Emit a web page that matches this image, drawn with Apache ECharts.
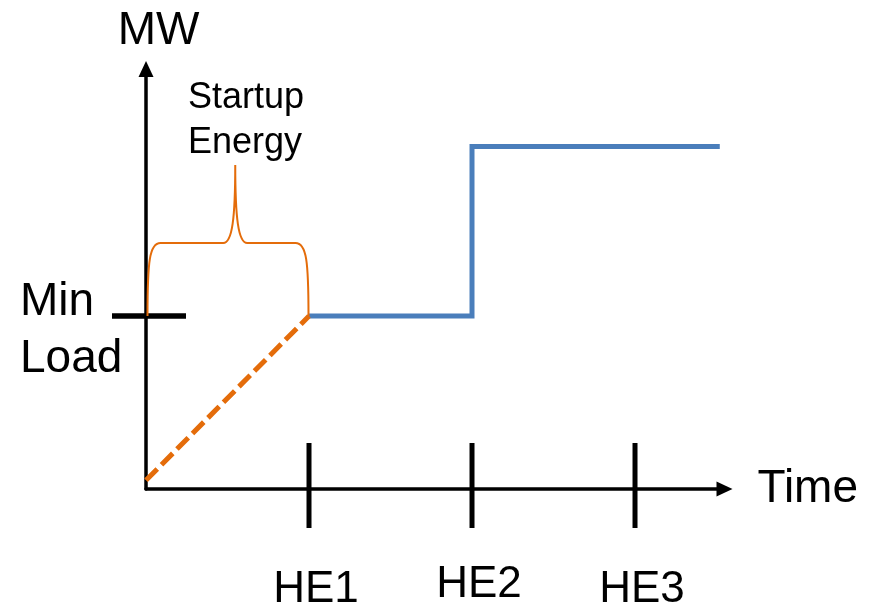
<!DOCTYPE html>
<html>
<head>
<meta charset="utf-8">
<script src="https://cdn.jsdelivr.net/npm/echarts@6/dist/echarts.min.js"></script>
<style>
html,body{margin:0;padding:0;background:#fff;}
#chart{width:877px;height:604px;}
</style>
</head>
<body>
<div id="chart"></div>
<script>
// ---- data ----
const hourTicks = [1, 2, 3];
const hourLabels = ['HE1', 'HE2', 'HE3'];
const minLoad = 1;
const minLoadLabel = 'Min\nLoad';
const rampPoints = [[0, 0.05], [1, 1]];               // startup ramp (orange dashed)
const dispatchPoints = [[1, 1], [2, 1], [2, 1.98], [3.52, 1.98]]; // MW after HE1 (blue)
const braceSpan = [[0, 1, 1]];                        // [startX, endX, level]
const braceText = 'Startup\nEnergy';
const xName = 'Time';
const yName = 'MW';

const FONT = "'Liberation Sans', Arial, sans-serif";
const ORANGE = '#E46C0A';
const BLUE = '#4A7EBB';

const chart = echarts.init(document.getElementById('chart'));

const option = {
  animation: false,
  backgroundColor: '#ffffff',
  textStyle: { fontFamily: FONT, color: '#000' },
  grid: { left: 146, right: 877 - 724.5, top: 69, bottom: 115, containLabel: false, outerBoundsMode: 'none' },
  xAxis: {
    type: 'value',
    min: 0, max: 3.549, interval: 1,
    name: xName,
    nameLocation: 'end',
    nameGap: 33,
    nameTextStyle: { fontFamily: FONT, fontSize: 46, lineHeight: 46, color: '#000', verticalAlign: 'middle', align: 'left', padding: [16, 0, 0, 0] },
    axisLine: {
      show: true, onZero: false,
      symbol: ['none', 'triangle'], symbolSize: [15, 16],
      lineStyle: { color: '#000', width: 3.5 }
    },
    axisTick: { show: false },
    splitLine: { show: false },
    axisLabel: {
      show: true,
      margin: 74,
      padding: [0, 0, 0, 14],
      formatter: function (v) {
        const i = hourTicks.indexOf(Math.round(v * 1000) / 1000);
        if (i < 0) return '';
        return (i === 1 ? '{hi|' : '{lo|') + hourLabels[i] + '}';
      },
      rich: {
        hi: { fontFamily: FONT, fontSize: 44, lineHeight: 44, color: '#000' },
        lo: { fontFamily: FONT, fontSize: 44, lineHeight: 54, color: '#000' }
      }
    }
  },
  yAxis: {
    type: 'value',
    min: 0, max: 2.428, interval: 1,
    name: yName,
    nameLocation: 'end',
    nameGap: 15,
    nameTextStyle: { fontFamily: FONT, fontSize: 46, lineHeight: 46, color: '#000', padding: [0, 0, 0, 25] },
    axisLine: {
      show: true, onZero: false,
      symbol: ['none', 'triangle'], symbolSize: [15, 16],
      lineStyle: { color: '#000', width: 3.5 }
    },
    axisTick: { show: false },
    splitLine: { show: false },
    axisLabel: { show: false }
  },
  series: [
    {
      // hour-ending tick marks crossing the time axis
      type: 'custom',
      coordinateSystem: 'cartesian2d',
      clip: false,
      silent: true,
      data: hourTicks.map(function (h) { return [h, 0]; }),
      encode: { x: 0, y: 1 },
      renderItem: function (params, api) {
        const p = api.coord([api.value(0), 0]);
        return {
          type: 'line',
          shape: { x1: p[0], y1: p[1] - 46, x2: p[0], y2: p[1] + 39 },
          style: { stroke: '#000', lineWidth: 5 }
        };
      },
      z: 3
    },
    {
      // min load tick and label on the MW axis
      type: 'custom',
      coordinateSystem: 'cartesian2d',
      clip: false,
      silent: true,
      data: [[0, minLoad]],
      encode: { x: 0, y: 1 },
      renderItem: function (params, api) {
        const p = api.coord([api.value(0), api.value(1)]);
        return {
          type: 'group',
          children: [
            {
              type: 'line',
              shape: { x1: p[0] - 34, y1: p[1], x2: p[0] + 40, y2: p[1] },
              style: { stroke: '#000', lineWidth: 5.5 }
            },
            {
              type: 'text',
              x: p[0] - 126,
              y: p[1] - 42,
              style: {
                text: minLoadLabel,
                fontFamily: FONT, fontSize: 46, lineHeight: 57,
                fill: '#000', align: 'left', verticalAlign: 'top'
              }
            }
          ]
        };
      },
      z: 3
    },
    {
      type: 'line',
      data: dispatchPoints,
      symbol: 'none',
      lineStyle: { color: BLUE, width: 5, join: 'miter', cap: 'butt' },
      z: 4
    },
    {
      type: 'line',
      data: rampPoints,
      symbol: 'none',
      lineStyle: { color: ORANGE, width: 5, type: [16, 6], cap: 'butt' },
      z: 5
    },
    {
      // curly brace marking the startup energy
      type: 'custom',
      coordinateSystem: 'cartesian2d',
      clip: false,
      silent: true,
      data: braceSpan,
      encode: { x: [0, 1], y: 2 },
      renderItem: function (params, api) {
        const L = api.coord([api.value(0), api.value(2)]);
        const R = api.coord([api.value(1), api.value(2)]);
        const xl = L[0] + 1.5, xr = R[0] - 0.5, y0 = L[1];
        const yt = y0 - 73, yp = y0 - 151;
        const xm = xl + (xr - xl) * 0.545;
        const d = 'M' + xl + ' ' + y0 +
          ' C' + xl + ' ' + (y0 - 55) + ' ' + (xl + 2) + ' ' + yt + ' ' + (xl + 13) + ' ' + yt +
          ' L' + (xm - 12) + ' ' + yt +
          ' C' + (xm - 3) + ' ' + yt + ' ' + xm + ' ' + (yt - 25) + ' ' + xm + ' ' + yp +
          ' C' + xm + ' ' + (yt - 25) + ' ' + (xm + 3) + ' ' + yt + ' ' + (xm + 12) + ' ' + yt +
          ' L' + (xr - 13) + ' ' + yt +
          ' C' + (xr - 2) + ' ' + yt + ' ' + xr + ' ' + (y0 - 55) + ' ' + xr + ' ' + y0;
        return {
          type: 'group',
          children: [
            {
              type: 'path',
              shape: { pathData: d },
              style: { stroke: ORANGE, lineWidth: 2, fill: null }
            },
            {
              type: 'text',
              x: L[0] + 42,
              y: y0 - 240,
              style: {
                text: braceText,
                fontFamily: FONT, fontSize: 36, lineHeight: 45,
                fill: '#000', align: 'left', verticalAlign: 'top'
              }
            }
          ]
        };
      },
      z: 6
    }
  ]
};

chart.setOption(option);
</script>
</body>
</html>
